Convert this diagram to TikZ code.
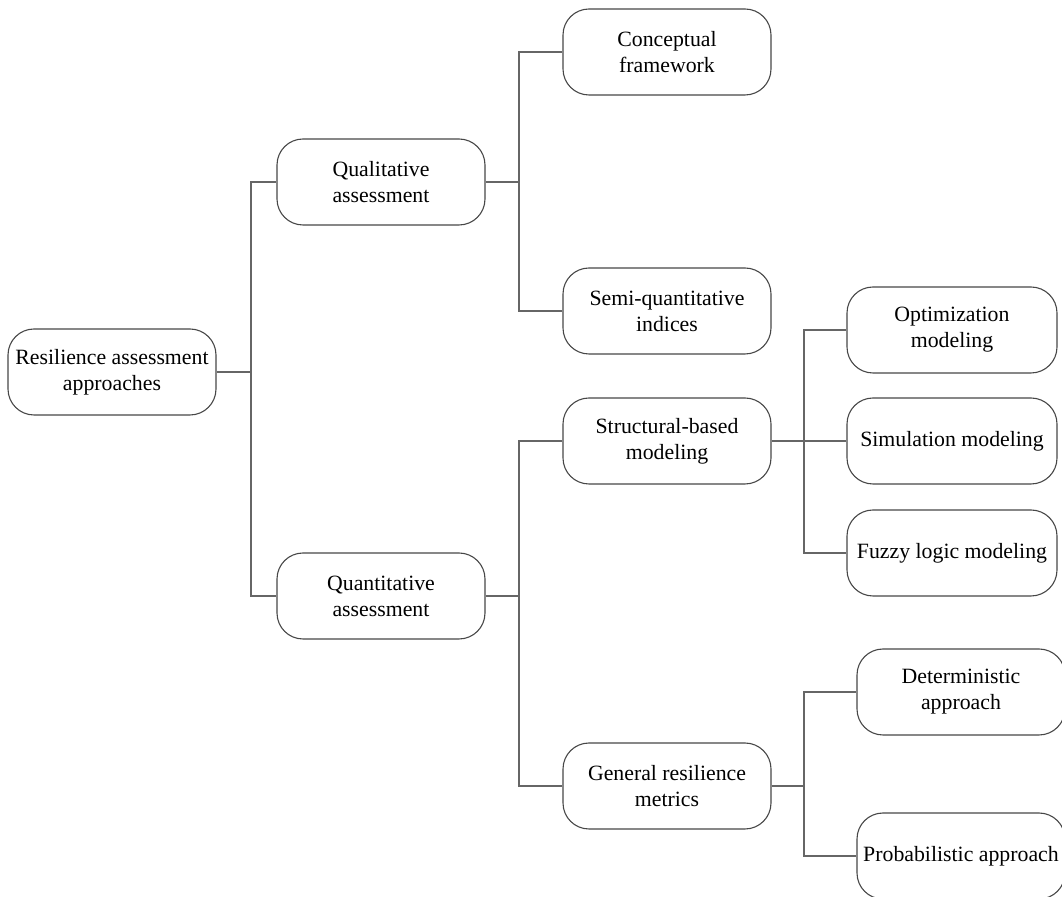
\documentclass[tikz,border=0pt]{standalone}
\usepackage{fontspec}
\setmainfont{Liberation Serif}
\begin{document}
\begin{tikzpicture}[x=0.5pt,y=-0.5pt,
  box/.style={draw=black!72, line width=0.55pt, rounded corners=13pt,
    minimum width=104pt, minimum height=43pt, align=center, inner sep=1pt,
    font=\fontsize{10.9}{13}\selectfont},
  wide/.style={box, minimum width=105pt},
  link/.style={draw=black!60, line width=0.55pt}]
\useasboundingbox (0,0) rectangle (1062,897);
% nodes
\node[box] (root) at (112,372) {Resilience assessment\\approaches};
\node[box] (qual) at (381,182) {Qualitative\\assessment};
\node[box] (quant) at (381,596) {Quantitative\\assessment};
\node[box] (concept) at (667,52) {Conceptual\\framework};
\node[box] (semi) at (667,311) {Semi-quantitative\\indices};
\node[box] (struct) at (667,441) {Structural-based\\modeling};
\node[box] (general) at (667,786) {General resilience\\metrics};
\node[wide] (optim) at (952,330) {Optimization\\modeling};
\node[wide] (simul) at (952,441) {Simulation modeling};
\node[wide] (fuzzy) at (952,553) {Fuzzy logic modeling};
\node[box] (determ) at (961,692) {Deterministic\\approach};
\node[box] (probab) at (961,856) {Probabilistic approach};
% junctions
\coordinate (j1) at (251,372);
\coordinate (j2) at (519,182);
\coordinate (j3) at (519,596);
\coordinate (j4) at (804,441);
\coordinate (j5) at (804,786);
% connectors
\draw[link] (root.east) -- (j1);
\draw[link] (j1) |- (qual.west);
\draw[link] (j1) |- (quant.west);
\draw[link] (qual.east) -- (j2);
\draw[link] (j2) |- (concept.west);
\draw[link] (j2) |- (semi.west);
\draw[link] (quant.east) -- (j3);
\draw[link] (j3) |- (struct.west);
\draw[link] (j3) |- (general.west);
\draw[link] (struct.east) -- (j4);
\draw[link] (j4) |- (optim.west);
\draw[link] (j4) -- (simul.west);
\draw[link] (j4) |- (fuzzy.west);
\draw[link] (general.east) -- (j5);
\draw[link] (j5) |- (determ.west);
\draw[link] (j5) |- (probab.west);
\end{tikzpicture}
\end{document}
